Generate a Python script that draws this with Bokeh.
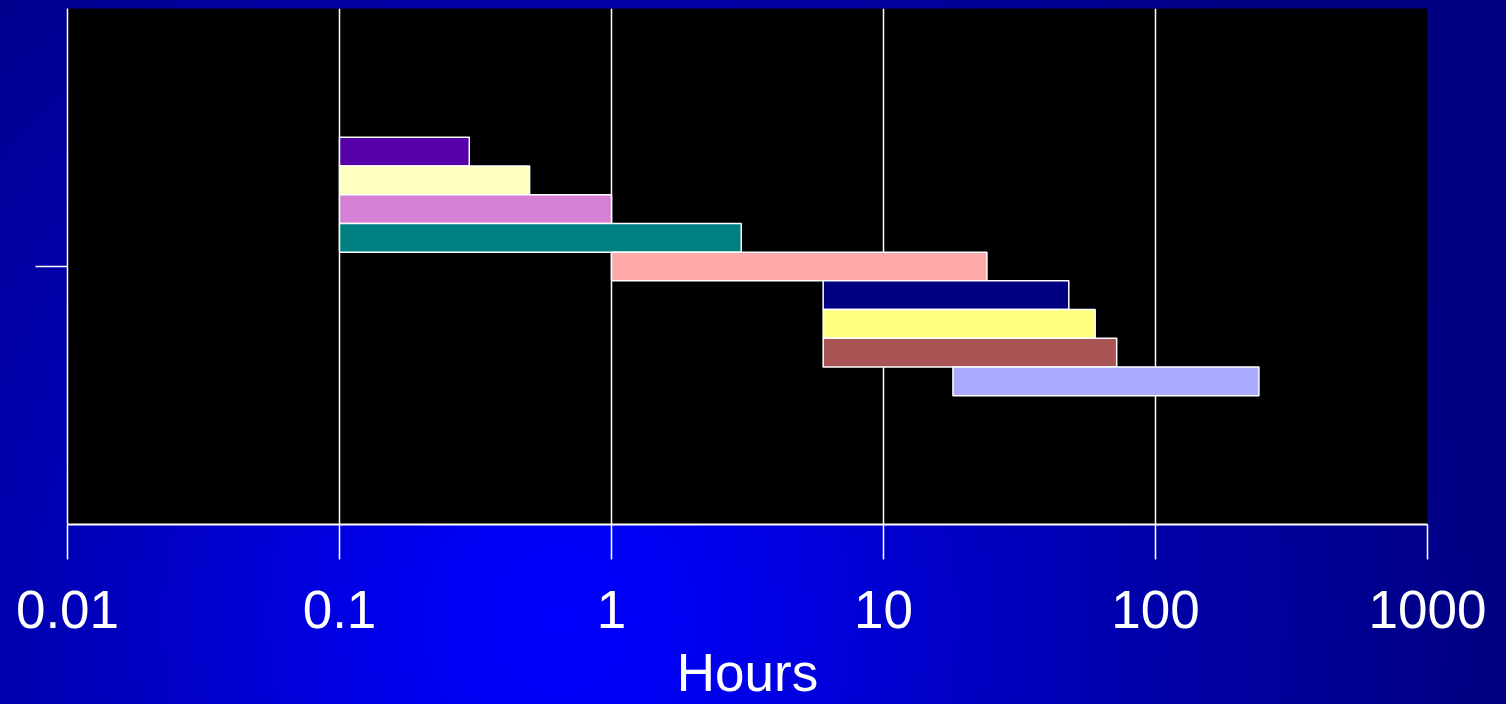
from bokeh.plotting import figure
from bokeh.models import Range1d, FixedTicker, ColumnDataSource
from bokeh.embed import file_html
from bokeh.resources import INLINE

# ---- data ----
series = ["S1", "S2", "S3", "S4", "S5", "S6", "S7", "S8", "S9"]
start_hours = [0.1, 0.1, 0.1, 0.1, 1, 6, 6, 6, 18]
end_hours = [0.3, 0.5, 1, 3, 24, 48, 60, 72, 240]
bar_colors = ["#5500AA", "#FFFFC0", "#D580D5", "#008080", "#FFAAAA",
              "#000080", "#FFFF80", "#AA5555", "#AAAAFF"]
x_ticks = [0.01, 0.1, 1, 10, 100, 1000]
x_tick_labels = ["0.01", "0.1", "1", "10", "100", "1000"]
x_title = "Hours"

# ---- layout of the single category cluster ----
n = len(series)
step = 28.7 / 516.0
mid = (n - 1) / 2.0
ys = [0.5 + (mid - i) * step for i in range(n)]

src = ColumnDataSource(dict(y=ys, left=start_hours, right=end_hours, color=bar_colors, name=series))

p = figure(width=1506, height=704, x_axis_type="log", output_backend="svg",
           toolbar_location=None, x_range=Range1d(x_ticks[0], x_ticks[-1]), y_range=Range1d(0, 1))

p.min_border_left = 67
p.min_border_right = 79
p.min_border_top = 8
p.min_border_bottom = 180
p.background_fill_color = "black"
p.border_fill_color = None
p.outline_line_color = None
p.styles = {"background": "radial-gradient(circle at 560px 620px, #0000FF 0px, #0000F0 150px, "
                          "#0000C8 380px, #0000A8 600px, #000080 950px)"}

p.hbar(y="y", left="left", right="right", height=step, fill_color="color",
       line_color="white", line_width=1.5, source=src)

# x axis
xa = p.xaxis[0]
xa.ticker = FixedTicker(ticks=x_ticks, minor_ticks=[])
xa.major_label_overrides = {t: l for t, l in zip(x_ticks, x_tick_labels)}
xa.major_label_text_font = "Liberation Sans"
xa.major_label_text_font_size = "53px"
xa.major_label_text_color = "white"
xa.major_label_standoff = 31
xa.major_tick_out = 35
xa.major_tick_in = 0
xa.major_tick_line_color = "white"
xa.major_tick_line_width = 1.5
xa.minor_tick_line_color = None
xa.axis_line_color = "white"
xa.axis_line_width = 2
xa.axis_label = x_title
xa.axis_label_text_font = "Liberation Sans"
xa.axis_label_text_font_size = "53px"
xa.axis_label_text_font_style = "normal"
xa.axis_label_text_color = "white"
xa.axis_label_standoff = 12

# y axis: one category, unlabeled tick
ya = p.yaxis[0]
ya.ticker = FixedTicker(ticks=[0.5], minor_ticks=[])
ya.major_label_overrides = {0.5: ""}
ya.major_label_text_font_size = "1px"
ya.major_tick_out = 32
ya.major_tick_in = 0
ya.major_tick_line_color = "white"
ya.major_tick_line_width = 1.5
ya.minor_tick_line_color = None
ya.axis_line_color = "white"
ya.axis_line_width = 1.5

p.xgrid.grid_line_color = "white"
p.xgrid.grid_line_width = 1.5
p.ygrid.grid_line_color = None

open("out.html", "w").write(file_html(p, INLINE))
